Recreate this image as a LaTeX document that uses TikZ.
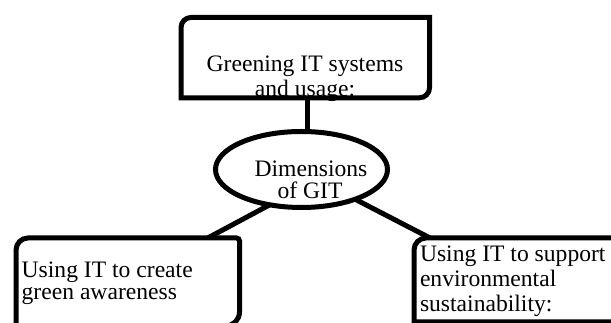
\documentclass[tikz,border=0pt]{standalone}
\usepackage{fontspec}
\setmainfont{Liberation Serif}
\usetikzlibrary{shapes.geometric}
\pgfdeclarelayer{canvas}
\pgfdeclarelayer{wires}
\pgfsetlayers{canvas,wires,main}
\begin{document}
\begin{tikzpicture}[x=1pt,y=1pt,
  outline/.style={line width=5pt, line join=miter, draw=black},
  area/.style={rectangle, inner sep=0pt, outer sep=0pt},
  connector/.style={line width=5pt, draw=black},
  oval/.style={ellipse, draw=black, line width=5pt, fill=white, inner sep=0pt, outer sep=0pt, minimum width=172pt, minimum height=76pt},
  txt/.style={font=\fontsize{23.6}{25}\selectfont, inner sep=0pt, outer sep=0pt}]
\useasboundingbox (0,0) rectangle (611,323);
\clip (0,0) rectangle (611,323);
\begin{pgfonlayer}{canvas}
\fill[white] (0,0) rectangle (611,323);
\end{pgfonlayer}

% box areas
\node[area, minimum width=248.5pt, minimum height=80.3pt] (topbox) at (305.25,265.35) {};
\node[area, minimum width=223.5pt, minimum height=88pt] (leftbox) at (127.75,41) {};
\node[area, minimum width=206pt, minimum height=84pt] (rightbox) at (517,43) {};
\node[oval] (dimen) at (301.5,153.5) {};

% texts
\node[txt, anchor=base] (topA) at (305,251) {Greening IT systems};
\node[txt, anchor=base] (topB) at (305,226) {and usage:};
\node[txt, anchor=base] (dimA) at (311,146.3) {Dimensions};
\node[txt, anchor=base] (dimB) at (310,124.7) {of GIT};
\node[txt, anchor=base west] (leftA) at (21.7,45.5) {Using IT to create};
\node[txt, anchor=base west] (leftB) at (21.7,23) {green awareness};
\node[txt, anchor=base west] (rightA) at (420,61) {Using IT to support};
\node[txt, anchor=base west] (rightB) at (420,36) {environmental};
\node[txt, anchor=base west] (rightC) at (420,11) {sustainability:};

% borders
\draw[outline] (topbox.south west) -- ([yshift=-10pt]topbox.north west)
  arc[start angle=180, end angle=90, radius=10pt] -- (topbox.north east)
  -- ([yshift=10pt]topbox.south east)
  arc[start angle=0, end angle=-90, radius=10pt] -- cycle;
\draw[outline] (leftbox.south west) -- ([yshift=-12pt]leftbox.north west)
  arc[start angle=180, end angle=90, radius=12pt] -- ([xshift=-3pt]leftbox.north east)
  arc[start angle=90, end angle=0, radius=3pt] -- ([yshift=14pt]leftbox.south east)
  arc[start angle=0, end angle=-90, radius=14pt] -- cycle;
\draw[outline] (rightbox.south west) -- ([yshift=-12pt]rightbox.north west)
  arc[start angle=180, end angle=90, radius=12pt] -- (rightbox.north east)
  -- (rightbox.south east) -- cycle;

% connectors
\begin{pgfonlayer}{wires}
\draw[connector, shorten >=-5pt] ([xshift=2.25pt]topbox.south) -- ([xshift=6pt]dimen.north);
\draw[connector, shorten >=-5pt] ([xshift=80pt]leftbox.north) -- (dimen.228);
\draw[connector, shorten >=-5pt] ([xshift=-87pt]rightbox.north) -- (dimen.331);
\end{pgfonlayer}
\end{tikzpicture}
\end{document}
